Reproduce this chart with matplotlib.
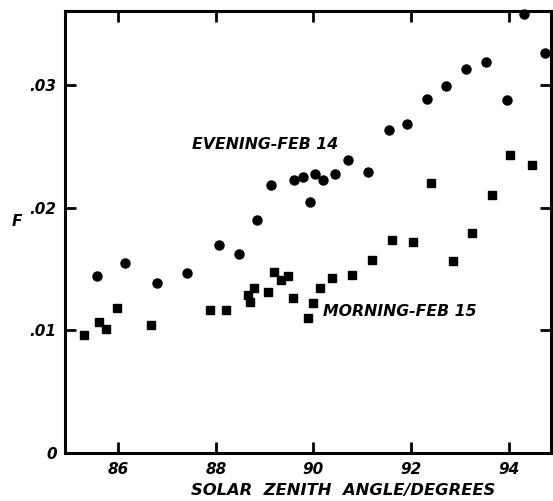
"""Mixing-ratio F against solar zenith angle, evening vs morning twilight."""

import matplotlib
matplotlib.use("Agg")
import matplotlib.pyplot as plt

# evening, Feb 14 (circles)
EVE_ZA = [85.56, 86.15, 86.79, 87.41, 88.06, 88.47, 88.85, 89.13, 89.61, 89.78,
          89.93, 90.03, 90.20, 90.44, 90.71, 91.12, 91.54, 91.92, 92.32, 92.72,
          93.12, 93.53, 93.96, 94.32, 94.75]
EVE_F = [.01444, .01547, .0139, .01466, .01694, .0162, .019, .02184, .02224, .02251,
         .02043, .02273, .02226, .02277, .02385, .02293, .02629, .02684, .02885, .02993,
         .03128, .03182, .02877, .03573, .03261]

# morning, Feb 15 (squares)
MOR_ZA = [85.31, 85.60, 85.76, 85.97, 86.67, 87.88, 88.21, 88.67, 88.70, 88.78,
          89.06, 89.19, 89.34, 89.48, 89.58, 89.88, 90.00, 90.14, 90.38, 90.80,
          91.21, 91.62, 92.05, 92.42, 92.87, 93.24, 93.67, 94.03, 94.47]
MOR_F = [.00964, .01065, .0101, .01179, .01043, .01169, .01169, .01287, .01232, .01344,
         .01309, .01472, .01411, .01444, .01262, .01105, .01222, .01348, .01428, .01454,
         .01574, .01734, .01722, .02204, .01563, .01791, .021, .02428, .02344]

X_TICKS = [86, 88, 90, 92, 94]
Y_TICKS = [0, .01, .02, .03]
Y_LABELS = ["0", ".01", ".02", ".03"]

FONT = dict(fontweight="bold", style="italic", family="DejaVu Sans")


def main():
    fig = plt.figure(figsize=(5.53, 5.01), dpi=100)
    ax = fig.add_axes([0.1175, 0.0952, 0.879, 0.8828])

    ax.plot(EVE_ZA, EVE_F, "o", ms=6.5, color="black", clip_on=False)
    ax.plot(MOR_ZA, MOR_F, "s", ms=5.5, color="black", clip_on=False)

    ax.set_xlim(84.91, 94.87)
    ax.set_ylim(0, 0.036)

    ax.set_xticks(X_TICKS)
    ax.set_xticklabels([str(t) for t in X_TICKS], fontsize=11, **FONT)
    ax.set_yticks(Y_TICKS)
    ax.set_yticklabels(Y_LABELS, fontsize=11, **FONT)
    ax.tick_params(direction="in", length=8, width=2, top=True, right=True, pad=6)

    for s in ax.spines.values():
        s.set_linewidth(2.2)

    ax.text(87.51, .02515, "EVENING-FEB 14", fontsize=11.3, va="center", ha="left", **FONT)
    ax.text(90.20, .01157, "MORNING-FEB 15", fontsize=11.3, va="center", ha="left", **FONT)

    fig.text(17 / 553, 1 - 222 / 501, "F", fontsize=11, ha="center", va="center", **FONT)
    fig.text(343 / 553, 1 - 490 / 501, "SOLAR  ZENITH  ANGLE/DEGREES", fontsize=11.8,
             ha="center", va="center", **FONT)

    fig.savefig("out.png", dpi=100)


if __name__ == "__main__":
    main()
